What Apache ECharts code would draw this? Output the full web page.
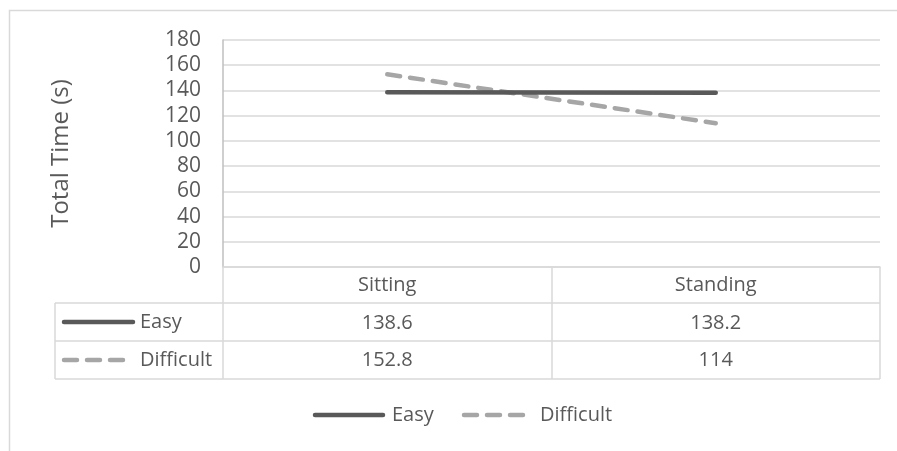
<!DOCTYPE html>
<html>
<head>
<meta charset="utf-8">
<script src="https://cdn.jsdelivr.net/npm/echarts@6/dist/echarts.min.js"></script>
<style>
  html, body { margin: 0; padding: 0; background: #fff; }
  #chart { width: 897px; height: 451px; }
</style>
</head>
<body>
<div id="chart"></div>
<script>
// Posture categories and total completion time per task difficulty
const categories = ['Sitting', 'Standing'];
const easyTimes = [138.6, 138.2];
const difficultTimes = [152.8, 114];
const seriesNames = ['Easy', 'Difficult'];
const yTicks = { min: 0, max: 180, interval: 20 };

const FONT = 'Open Sans';
const TEXT = '#595959';
const GRID = '#d9d9d9';
const EASY_COLOR = '#595959';
const DIFF_COLOR = '#a6a6a6';
const DASH = [13, 10];

const chart = echarts.init(document.getElementById('chart'), null, { renderer: 'canvas' });

// data table geometry (below the plot area)
const tableLeft = 55, plotLeft = 223, plotRight = 880;
const rowLines = [303, 341, 379];

// key swatch + name, used both in the data table and in the legend row
function keyItem(x, y, len, color, dashed, label, textX) {
  return [
    { type: 'line', silent: true, shape: { x1: x, y1: y, x2: x + len, y2: y },
      style: { stroke: color, lineWidth: 4.5, lineCap: 'round', lineDash: dashed ? DASH : null } },
    { type: 'text', silent: true, x: textX, y: y,
      style: { text: label, fontFamily: FONT, fontSize: 20, fill: TEXT, verticalAlign: 'middle' } }
  ];
}

const option = {
  animation: false,
  textStyle: { fontFamily: FONT },
  grid: { left: plotLeft, right: 897 - plotRight, top: 40, bottom: 451 - 267 },
  xAxis: {
    type: 'category',
    data: categories,
    boundaryGap: true,
    axisLine: { lineStyle: { color: GRID, width: 1.5 } },
    axisTick: { show: true, length: 112, lineStyle: { color: GRID, width: 1.5 } },
    axisLabel: {
      margin: 0,
      interval: 0,
      verticalAlign: 'top',
      formatter: (value, idx) => `{c|${value}}\n{c|${easyTimes[idx]}}\n{c|${difficultTimes[idx]}}`,
      rich: {
        c: { fontFamily: FONT, fontSize: 20, color: TEXT, lineHeight: 37.5, align: 'center' }
      }
    }
  },
  yAxis: {
    type: 'value',
    min: yTicks.min,
    max: yTicks.max,
    interval: yTicks.interval,
    name: 'Total Time (s)',
    nameLocation: 'middle',
    nameRotate: 90,
    nameGap: 150,
    nameTextStyle: { fontFamily: FONT, fontSize: 24, color: TEXT },
    axisLine: { show: true, lineStyle: { color: '#bfbfbf', width: 1.5 } },
    axisTick: { show: false },
    axisLabel: { margin: 22, fontFamily: FONT, fontSize: 21, color: TEXT },
    splitLine: { lineStyle: { color: GRID, width: 1.5 } }
  },
  series: [
    {
      name: seriesNames[0],
      type: 'line',
      data: easyTimes,
      symbol: 'none',
      color: EASY_COLOR,
      lineStyle: { color: EASY_COLOR, width: 4.5, cap: 'round' },
      z: 3
    },
    {
      name: seriesNames[1],
      type: 'line',
      data: difficultTimes,
      symbol: 'none',
      color: DIFF_COLOR,
      lineStyle: { color: DIFF_COLOR, width: 4.5, type: DASH, cap: 'round' },
      z: 2
    }
  ],
  graphic: [
    // outer chart frame
    { type: 'rect', shape: { x: 9.5, y: 10.5, width: 1000, height: 1000 },
      style: { fill: 'none', stroke: GRID, lineWidth: 1.5 }, silent: true },
    // table horizontal rules
    ...rowLines.map(y => ({
      type: 'line', shape: { x1: tableLeft, y1: y, x2: plotRight, y2: y },
      style: { stroke: GRID, lineWidth: 1.5 }, silent: true
    })),
    // left edge of the series-name column
    { type: 'line', shape: { x1: tableLeft, y1: rowLines[0], x2: tableLeft, y2: rowLines[2] },
      style: { stroke: GRID, lineWidth: 1.5 }, silent: true },
    // series keys inside the table
    ...keyItem(64, 322, 69, EASY_COLOR, false, seriesNames[0], 140),
    ...keyItem(64, 360, 59, DIFF_COLOR, true, seriesNames[1], 140),
    // legend row
    ...keyItem(315, 415, 68, EASY_COLOR, false, seriesNames[0], 392),
    ...keyItem(464, 415, 59, DIFF_COLOR, true, seriesNames[1], 540)
  ]
};

chart.setOption(option);
</script>
</body>
</html>
